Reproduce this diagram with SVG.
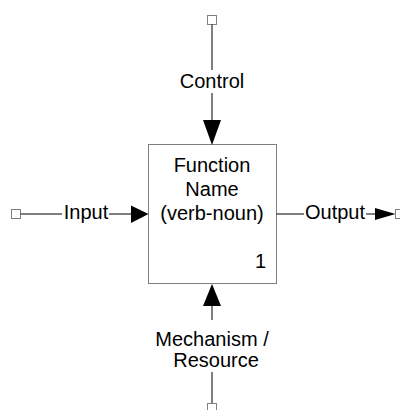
<svg xmlns="http://www.w3.org/2000/svg" width="400" height="410" viewBox="0 0 400 410">
<style>
text{font-family:"Liberation Sans",Arial,sans-serif;font-size:20px;fill:#000}
.m{text-anchor:middle}
.ln{stroke:#000;stroke-width:1;fill:none}
.term{fill:#fff;stroke:#808080;stroke-width:1}
.ah{fill:#000;stroke:none}
</style>
<rect width="400" height="410" fill="#fff"/>
<g id="function">
<rect x="148.5" y="144.5" width="128" height="139" fill="#fff" stroke="#808080" stroke-width="1"/>
<text class="m" x="212" y="172">Function</text>
<text class="m" x="212" y="196">Name</text>
<text class="m" x="212" y="220">(verb-noun)</text>
<text x="266" y="268" text-anchor="end">1</text>
</g>
<g id="connectors">
<g id="control">
<rect class="term" x="207.5" y="15.5" width="9" height="9"/>
<path class="ln" d="M212 24.5V70M212 93V121"/>
<polygon class="ah" points="203,120 221,120 212,145"/>
<text class="m" x="212" y="88">Control</text>
</g>
<g id="input">
<rect class="term" x="11.5" y="209.5" width="9" height="9"/>
<path class="ln" d="M20.5 214H62M109 214H132"/>
<polygon class="ah" points="131,205.5 131,223 148.5,214"/>
<text class="m" x="86" y="219">Input</text>
</g>
<g id="output">
<path class="ln" d="M276.5 214H304M366 214H376"/>
<polygon class="ah" points="375,208 375,220 395.5,214"/>
<rect class="term" x="395.5" y="209.5" width="9" height="9"/>
<text class="m" x="335" y="219">Output</text>
</g>
<g id="mechanism">
<polygon class="ah" points="212,284 203,306 221,306"/>
<path class="ln" d="M212 305V320M212 372V403"/>
<rect class="term" x="207.5" y="403.5" width="9" height="9"/>
<text class="m" x="212" y="346">Mechanism /</text>
<text class="m" x="216" y="367">Resource</text>
</g>
</g>
</svg>
